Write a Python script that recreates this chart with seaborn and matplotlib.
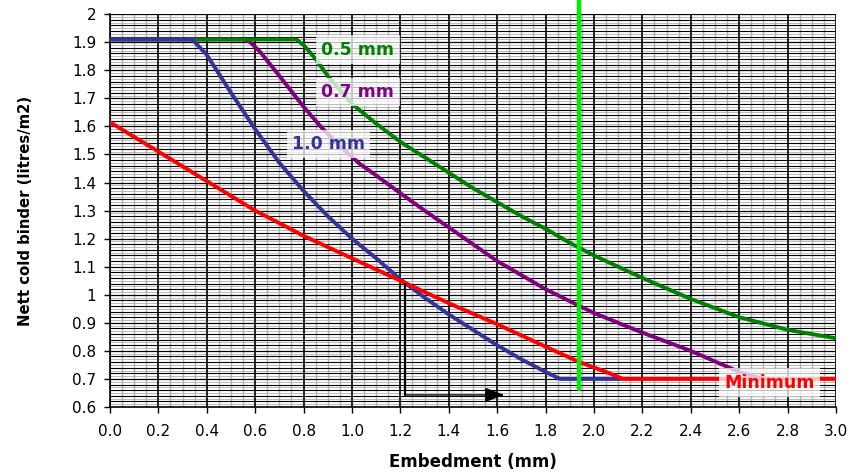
import matplotlib
matplotlib.use("Agg")
import matplotlib.pyplot as plt
from matplotlib.ticker import MultipleLocator, FuncFormatter
import seaborn as sns
import pandas as pd

# ---- data ----
x_10 = [0.0, 0.34, 0.40, 0.50, 0.60, 0.70, 0.80, 0.90, 1.00, 1.10, 1.20, 1.30, 1.40, 1.50, 1.60, 1.70, 1.80, 1.86, 2.11]
y_10 = [1.91, 1.91, 1.855, 1.72, 1.59, 1.47, 1.37, 1.28, 1.20, 1.13, 1.055, 0.99, 0.93, 0.875, 0.82, 0.77, 0.725, 0.70, 0.70]

x_07 = [0.0, 0.55, 0.58, 0.62, 0.70, 0.80, 0.87, 0.95, 1.03, 1.10, 1.20, 1.30, 1.40, 1.50, 1.60, 1.70, 1.80, 1.94, 2.00, 2.20, 2.40, 2.60, 2.70]
y_07 = [1.91, 1.91, 1.90, 1.866, 1.78, 1.67, 1.60, 1.53, 1.468, 1.425, 1.362, 1.30, 1.24, 1.18, 1.12, 1.07, 1.02, 0.96, 0.935, 0.865, 0.80, 0.725, 0.70]

x_05 = [0.0, 0.77, 0.80, 0.85, 0.90, 1.00, 1.10, 1.20, 1.30, 1.40, 1.50, 1.60, 1.70, 1.80, 1.90, 2.00, 2.20, 2.40, 2.60, 2.80, 3.00]
y_05 = [1.91, 1.91, 1.89, 1.84, 1.78, 1.68, 1.61, 1.545, 1.49, 1.435, 1.38, 1.33, 1.28, 1.235, 1.185, 1.14, 1.06, 0.985, 0.92, 0.875, 0.845]

x_min = [0.0, 0.20, 0.40, 0.60, 0.80, 1.00, 1.20, 1.40, 1.60, 1.80, 1.94, 2.05, 2.12, 3.00]
y_min = [1.615, 1.51, 1.405, 1.30, 1.21, 1.13, 1.05, 0.97, 0.895, 0.815, 0.76, 0.725, 0.70, 0.70]

series_labels = ["0.5 mm", "0.7 mm", "1.0 mm", "Minimum"]
label_x = [0.874, 0.874, 0.751, 2.537]
label_y = [1.874, 1.723, 1.537, 0.687]

marker_x = 1.94                 # green vertical line
marker_y = [0.665, 2.06]
arrow_x = [1.22, 1.22, 1.63]     # route of the arrow
arrow_y = [1.04, 0.643, 0.643]

x_ticks = [0.0, 0.2, 0.4, 0.6, 0.8, 1.0, 1.2, 1.4, 1.6, 1.8, 2.0, 2.2, 2.4, 2.6, 2.8, 3.0]
y_ticks = [0.6, 0.7, 0.8, 0.9, 1.0, 1.1, 1.2, 1.3, 1.4, 1.5, 1.6, 1.7, 1.8, 1.9, 2.0]

# ---- style ----
sns.set_style("white")
plt.rcParams['font.family'] = ['DejaVu Sans']
plt.rcParams['text.color'] = 'black'
plt.rcParams['axes.labelcolor'] = 'black'
plt.rcParams['xtick.color'] = 'black'
plt.rcParams['ytick.color'] = 'black'

c_green = "#008000"
c_purple = "#800080"
c_blue = "#333399"
c_red = "#ff0000"

fig = plt.figure(figsize=(8.5, 4.72), dpi=100)
ax = fig.add_axes([0.1294, 0.1377, 0.9835 - 0.1294, 0.970 - 0.1377])

# grid
ax.set_axisbelow(True)
ax.xaxis.set_major_locator(MultipleLocator(0.2))
ax.xaxis.set_minor_locator(MultipleLocator(0.05))
ax.yaxis.set_major_locator(MultipleLocator(0.1))
ax.yaxis.set_minor_locator(MultipleLocator(0.02))
ax.xaxis.grid(True, which='major', color='black', lw=1.2)
ax.xaxis.grid(True, which='minor', color='#b0b0b0', lw=1.0)
ax.yaxis.grid(True, which='major', color='black', lw=0.9)
ax.yaxis.grid(True, which='minor', color='black', lw=0.8)
for yy in [v / 100 for v in range(61, 200, 2)]:
    ax.axhline(yy, color='#b8b8b8', lw=0.7, zorder=0.5)

lw = 2.8
df = pd.concat([
    pd.DataFrame({"x": x_07, "y": y_07, "s": "0.7 mm"}),
    pd.DataFrame({"x": x_05, "y": y_05, "s": "0.5 mm"}),
    pd.DataFrame({"x": x_10, "y": y_10, "s": "1.0 mm"}),
    pd.DataFrame({"x": x_min, "y": y_min, "s": "Minimum"}),
])
for s, c in [("0.7 mm", c_purple), ("0.5 mm", c_green), ("1.0 mm", c_blue), ("Minimum", c_red)]:
    d = df[df.s == s]
    sns.lineplot(data=d, x="x", y="y", color=c, lw=lw, ax=ax, sort=False,
                 estimator=None, legend=False, zorder=3)

# arrow route
ax.plot(arrow_x[:2], arrow_y[:2], color='black', lw=1.6, zorder=4)
ax.annotate("", xy=(arrow_x[2], arrow_y[2]), xytext=(arrow_x[1], arrow_y[1]),
            arrowprops=dict(arrowstyle='-|>,head_length=0.75,head_width=0.28', color='black', lw=1.0,
                            mutation_scale=16, shrinkA=0, shrinkB=0), zorder=4)

# green vertical marker
ax.plot([marker_x, marker_x], marker_y, color='#00ee00', lw=3.2, clip_on=False, zorder=5)

# series labels
colors = [c_green, c_purple, c_blue, c_red]
for t, xx, yy, c in zip(series_labels, label_x, label_y, colors):
    ax.text(xx, yy, t, color=c, fontsize=12.5, fontweight='bold', va='center', ha='left',
            zorder=6,
            bbox=dict(boxstyle='square,pad=0.3', fc='white', ec='none', alpha=0.75))

ax.set_xlim(0, 3.0)
ax.set_ylim(0.6, 2.0)
ax.set_xticks(x_ticks)
ax.set_yticks(y_ticks)
ax.xaxis.set_major_formatter(FuncFormatter(lambda v, p: f"{v:.1f}"))
ax.yaxis.set_major_formatter(FuncFormatter(lambda v, p: f"{v:g}"))
ax.tick_params(which='major', direction='out', length=4, width=1, color='black',
               labelsize=11, bottom=True, left=True, labelcolor='black')
ax.tick_params(axis='x', which='major', pad=8)
ax.tick_params(axis='y', which='major', pad=6)
ax.tick_params(which='minor', length=0)

for side in ['left', 'bottom']:
    ax.spines[side].set_color('black')
    ax.spines[side].set_linewidth(1.2)
for side in ['top', 'right']:
    ax.spines[side].set_visible(False)

ax.set_xlabel("Embedment (mm)", fontsize=12, fontweight='bold', labelpad=10, color='black')
ax.set_ylabel("Nett cold binder (litres/m2)", fontsize=10.7, fontweight='bold', labelpad=28, color='black')

fig.savefig("out.png", dpi=100)
